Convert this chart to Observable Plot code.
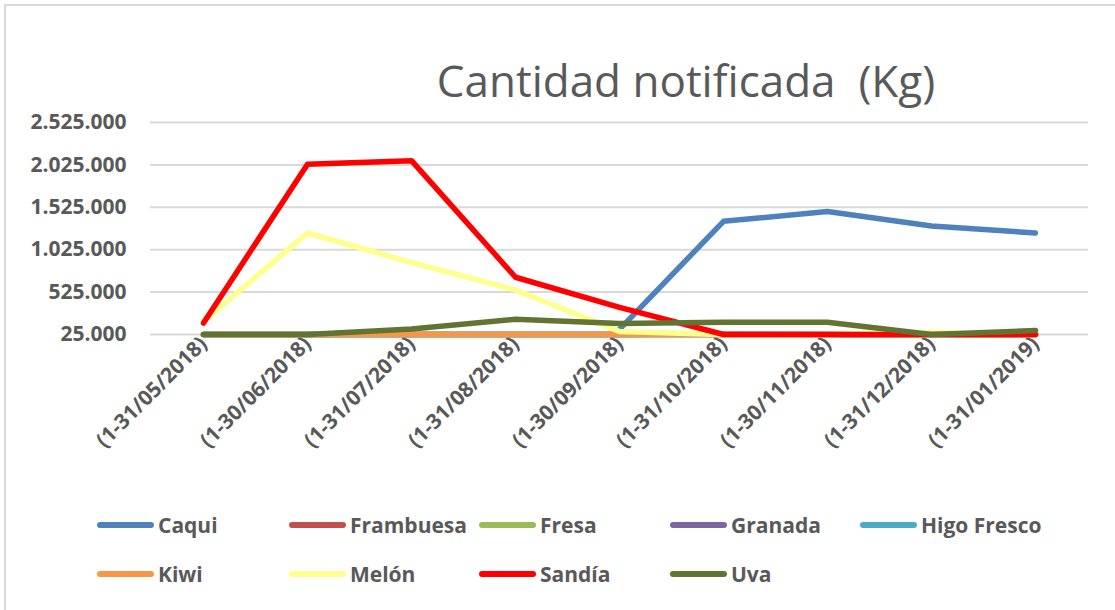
<!DOCTYPE html>
<html>
<head>
<meta charset="utf-8">
<script src="https://cdn.jsdelivr.net/npm/d3@7"></script>
<script src="https://cdn.jsdelivr.net/npm/@observablehq/plot@0.6"></script>
<style>
  html, body { margin: 0; padding: 0; background: #fff; }
  #wrap { position: relative; width: 1115px; height: 610px; overflow: hidden; font-family: "Open Sans", sans-serif; }
  #frame { position: absolute; left: 4px; top: 4px; width: 1200px; height: 700px; border: 2px solid #d9d9d9; box-sizing: border-box; }
  #title { position: absolute; left: 0; width: 1372px; top: 50px; text-align: center; white-space: pre; font-size: 44px; color: #595959; line-height: 60px; }
  #chart { position: absolute; left: 0; top: 0; }
  .leg { position: absolute; display: flex; align-items: center; font-weight: bold; font-size: 21px; color: #595959; white-space: pre; }
  .sw { width: 57px; height: 6px; border-radius: 3px; margin-right: 4px; }
</style>
</head>
<body>
<div id="wrap">
  <div id="frame"></div>
  <div id="chart"></div>
  <div id="title">Cantidad notificada  (Kg)</div>
</div>
<script>
// ---- data ----
const categories = ["(1-31/05/2018)", "(1-30/06/2018)", "(1-31/07/2018)", "(1-31/08/2018)", "(1-30/09/2018)", "(1-31/10/2018)", "(1-30/11/2018)", "(1-31/12/2018)", "(1-31/01/2019)"];
const seriesNames = ["Caqui", "Frambuesa", "Fresa", "Granada", "Higo Fresco", "Kiwi", "Melón", "Sandía", "Uva"];
const seriesColors = ["#4f81bd", "#c0504d", "#9bbb59", "#8064a2", "#4bacc6", "#f79646", "#ffff8f", "#ff0000", "#617431"];
const caqui     = [null, null, null, null, 85000, 1360000, 1475000, 1305000, 1222000];
const frambuesa = [0, 0, 0, 0, 0, 0, 0, 0, 0];
const fresa     = [0, 0, 0, 0, 0, 0, 0, 0, 0];
const granada   = [0, 0, 0, 0, 10000, 35000, 20000, 5000, 0];
const higoFresco= [0, 0, 0, 0, 0, 0, 0, 0, 0];
const kiwi      = [5000, 10000, 20000, 22000, 22000, 0, 0, 0, 0];
const melon     = [180000, 1222000, 874000, 550000, 60000, 15000, 10000, 50000, 10000];
const sandia    = [160000, 2034000, 2075000, 700000, 345000, 0, 0, 0, 0];
const uva       = [15000, 15000, 90000, 205000, 155000, 170000, 170000, 25000, 72000];
const yTicks = [25000, 525000, 1025000, 1525000, 2025000, 2525000];

const allValues = [caqui, frambuesa, fresa, granada, higoFresco, kiwi, melon, sandia, uva];
const rows = [];
seriesNames.forEach((name, i) => {
  categories.forEach((c, j) => rows.push({series: name, cat: c, value: allValues[i][j]}));
});

const fmt = v => d3.format(",")(v).replace(/,/g, ".");

const chart = Plot.plot({
  width: 1115,
  height: 500,
  marginTop: 122,
  marginBottom: 166,
  marginLeft: 150,
  marginRight: 27,
  style: { fontFamily: "Open Sans, sans-serif", fontWeight: "bold", fontSize: "21px", color: "#595959", background: "transparent" },
  x: { type: "point", domain: categories, padding: 0.5, label: null, tickSize: 0, tickPadding: 6, tickRotate: -45 },
  y: { domain: [25000, 2525000], clamp: true, ticks: yTicks, tickFormat: fmt, label: null, tickSize: 0, tickPadding: 24 },
  color: { domain: seriesNames, range: seriesColors },
  marks: [
    Plot.ruleY(yTicks, { stroke: "#d9d9d9", strokeWidth: 2 }),
    Plot.lineY(rows, { x: "cat", y: "value", z: "series", stroke: "series", strokeWidth: 5.5, strokeLinejoin: "round", strokeLinecap: "round" })
  ]
});
document.getElementById("chart").appendChild(chart);

// ---- legend ----
const legPos = [[97, 525], [289, 525], [479, 525], [670, 525], [860, 525], [97, 574], [289, 574], [479, 574], [670, 574]];
const wrap = document.getElementById("wrap");
seriesNames.forEach((name, i) => {
  const d = document.createElement("div");
  d.className = "leg";
  d.style.left = legPos[i][0] + "px";
  d.style.top = (legPos[i][1] - 15) + "px";
  d.style.height = "30px";
  const sw = document.createElement("div");
  sw.className = "sw";
  sw.style.background = seriesColors[i];
  d.appendChild(sw);
  const t = document.createElement("span");
  t.textContent = name;
  d.appendChild(t);
  wrap.appendChild(d);
});
</script>
</body>
</html>
